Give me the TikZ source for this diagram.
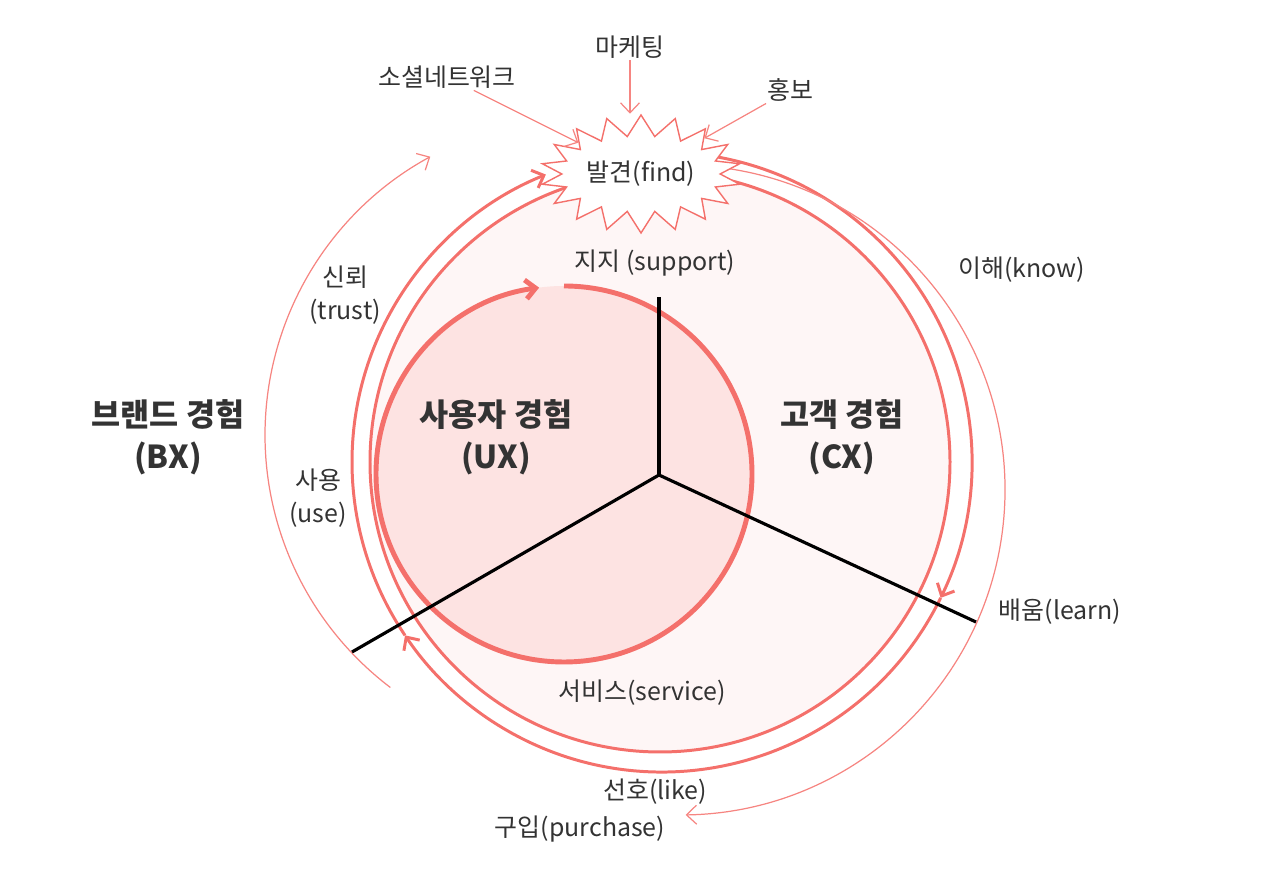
\documentclass[tikz,border=0pt]{standalone}
\usepackage{fontspec}
\newfontfamily\krfont{Noto Sans CJK KR}
\usetikzlibrary{arrows.meta}
\usetikzlibrary{shapes.symbols}
\definecolor{ringred}{HTML}{F4706B}
\definecolor{uxpink}{HTML}{FDE3E2}
\definecolor{cxpink}{HTML}{FEF6F6}
\definecolor{inkgray}{HTML}{333333}

\begin{document}
\begin{tikzpicture}[x=0.02cm,y=0.02cm,
    >={Straight Barb[length=2mm,width=3.8mm]},
    lbl/.style={font=\krfont\fontsize{14.2}{19}\selectfont, text=inkgray, align=center, inner sep=1pt},
    big/.style={font=\krfont\bfseries\fontsize{18}{24}\selectfont, text=inkgray, align=center},
    ring/.style={draw=ringred, line width=1.7pt},
    thinarc/.style={draw=ringred!85, line width=0.7pt},
    spoke/.style={draw=black, line width=1.8pt},
    burst/.style={shape=starburst, draw=ringred, fill=white, line width=0.8pt,
      starburst points=18, starburst point height=0.42cm, random starburst=0,
      minimum width=3.44cm, minimum height=2.36cm, inner sep=0pt}]
  \useasboundingbox (0,0) rectangle (1278,874);

  % customer experience (CX)
  \fill[cxpink] (660,412) circle[radius=290];
  \draw[ring] (660,412) circle[radius=290];

  % user experience (UX)
  \fill[uxpink] (564,400) circle[radius=188];
  \draw[ringred, line width=2.8pt, ->] (564,588)
    arc[start angle=90, end angle=-262.4, radius=188];

  % cycle round CX
  \draw[ring,->] (662,412) ++(80:310) arc[start angle=80, end angle=-26, radius=310];
  \draw[ring,->] (662,412) ++(-26:310) arc[start angle=-26, end angle=-146, radius=310];
  \draw[ring,->] (662,412) ++(-146:310) arc[start angle=-146, end angle=-248, radius=310];

  % thin outer arcs
  \draw[thinarc,->] (680,384) ++(83:325) arc[start angle=83, end angle=-89, radius=325];
  \draw[thinarc,->] (582,439) ++(232.8:317) arc[start angle=232.8, end angle=118.6, radius=317];

  % spokes
  \coordinate (hub) at (659,399);
  \coordinate (up) at (659,577);
  \coordinate (right) at (976,252);
  \coordinate (left) at (352,222);
  \draw[spoke] (hub) -- (up);
  \draw[spoke] (hub) -- (right);
  \draw[spoke] (hub) -- (left);

  % find
  \node[burst, lbl] (find) at (641,700) {발견(find)};
  \node[lbl] (sns) at (447,797) {소셜네트워크};
  \node[lbl] (mkt) at (630,827) {마케팅};
  \node[lbl] (pr) at (790,784) {홍보};
  \draw[thinarc,->] (sns) -- (find);
  \draw[thinarc,->] (mkt.south) -- (mkt.south |- find.north);
  \draw[thinarc,->] (pr) -- (find);

  % labels
  \node[big] (bx) at (168,437) {브랜드 경험\\(BX)};
  \node[big] (ux) at (496,437) {사용자 경험\\(UX)};
  \node[big] (cx) at (842,437) {고객 경험\\(CX)};
  \node[lbl] (support) at (655,611) {지지 (support)};
  \node[lbl] (know) at (1022,604) {이해(know)};
  \node[lbl] (learn) at (1060,262) {배움(learn)};
  \node[lbl] (service) at (642,181) {서비스(service)};
  \node[lbl] (like) at (655,82) {선호(like)};
  \node[lbl] (buy) at (580,45) {구입(purchase)};
  \node[lbl] (trust) at (345,579) {신뢰\\(trust)};
  \node[lbl] (use) at (318,376) {사용\\(use)};
\end{tikzpicture}
\end{document}
